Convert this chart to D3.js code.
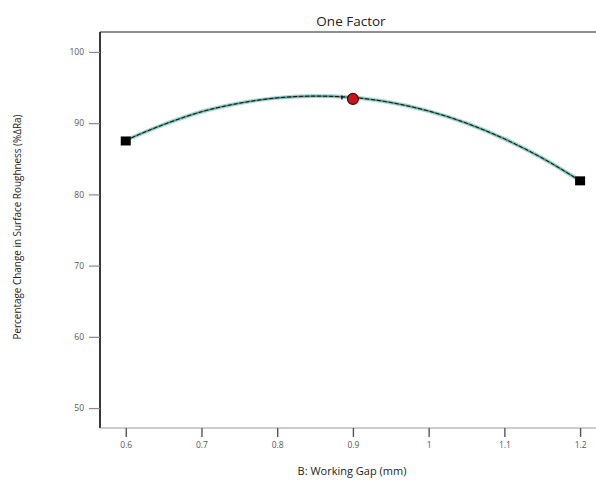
<!DOCTYPE html>
<html><head><meta charset="utf-8">
<script src="https://cdn.jsdelivr.net/npm/d3@7"></script>
<style>body{margin:0;background:#fff}svg{display:block}</style>
</head><body>
<script>
const curveX = [0.6,0.65,0.7,0.75,0.8,0.85,0.9,0.95,1.0,1.05,1.1,1.15,1.2];
const curveY = [87.6,89.8,91.6,92.8,93.55,93.8,93.6,92.9,91.7,90.0,87.8,85.1,81.9];
const designX = [0.6,1.2];
const designY = [87.5,81.9];
const centerX = [0.9];
const centerY = [93.4];
const xTicks = [0.6,0.7,0.8,0.9,1,1.1,1.2];
const yTicks = [50,60,70,80,90,100];

const W=596,H=480;
const svg=d3.select("body").append("svg").attr("width",W).attr("height",H);
const x=d3.scaleLinear().domain([0.566,1.221]).range([100,596]);
const y=d3.scaleLinear().domain([47.2,102.8]).range([428,32]);
const font="'Open Sans', 'Noto Sans', sans-serif";

svg.append("line").attr("x1",100).attr("x2",596).attr("y1",32).attr("y2",32).attr("stroke","#6a6a6a").attr("stroke-width",1.5);

const ya=svg.append("g").attr("transform","translate(100,0)").call(d3.axisLeft(y).tickValues(yTicks).tickSize(11).tickPadding(5).tickFormat(d3.format("d")));
ya.select(".domain").attr("stroke","#222").attr("stroke-width",1.8).attr("d","M0,32V428");
ya.selectAll(".tick line").attr("stroke","#888").attr("stroke-width",1.2);
ya.selectAll(".tick text").attr("fill","#555").style("font-family",font).style("font-size","8.5px");

const xa=svg.append("g").attr("transform","translate(0,428)").call(d3.axisBottom(x).tickValues(xTicks).tickSize(9).tickPadding(5).tickFormat(d=>String(d)));
xa.select(".domain").attr("stroke","#999").attr("stroke-width",1.2).attr("d","M100,0H596");
xa.selectAll(".tick line").attr("stroke","#555").attr("stroke-width",1.4);
xa.selectAll(".tick text").attr("fill","#555").style("font-family",font).style("font-size","8.5px");

const pts=curveX.map((v,i)=>[v,curveY[i]]);
const line=d3.line().x(d=>x(d[0])).y(d=>y(d[1])).curve(d3.curveMonotoneX);
svg.append("path").datum(pts).attr("d",line).attr("fill","none").attr("stroke","#a9d6d1").attr("stroke-width",4);
svg.append("path").datum(pts).attr("d",line).attr("fill","none").attr("stroke","#4f8f89").attr("stroke-width",1.6);
svg.append("path").datum(pts).attr("d",line).attr("fill","none").attr("stroke","#111").attr("stroke-width",1).attr("stroke-dasharray","4,2");

svg.selectAll("rect.d").data(designX.map((v,i)=>[v,designY[i]])).enter().append("rect")
 .attr("x",d=>x(d[0])-5).attr("y",d=>y(d[1])-4.5).attr("width",10).attr("height",9).attr("fill","#000");

svg.append("line").attr("x1",x(0.9)-11).attr("x2",x(0.9)-11).attr("y1",y(93.6)-2).attr("y2",y(93.6)+2).attr("stroke","#000").attr("stroke-width",1.3);

svg.selectAll("circle.c").data(centerX.map((v,i)=>[v,centerY[i]])).enter().append("circle")
 .attr("cx",d=>x(d[0])).attr("cy",d=>y(d[1])).attr("r",5.5).attr("fill","#c8141a").attr("stroke","#3a0a0a").attr("stroke-width",1.2);

svg.append("text").attr("x",351).attr("y",26).attr("text-anchor","middle").style("font-family",font).style("font-size","13.5px").attr("fill","#222").text("One Factor");
svg.append("text").attr("x",352).attr("y",475).attr("text-anchor","middle").style("font-family",font).style("font-size","11px").attr("fill","#222").text("B: Working Gap (mm)");
svg.append("text").attr("transform","translate(21,227) rotate(-90)").attr("text-anchor","middle").style("font-family",font).style("font-size","10.5px").attr("fill","#222")
 .attr("textLength",225).attr("lengthAdjust","spacingAndGlyphs").text("Percentage Change in Surface Roughness  (%ΔRa)");
</script>
</body></html>
